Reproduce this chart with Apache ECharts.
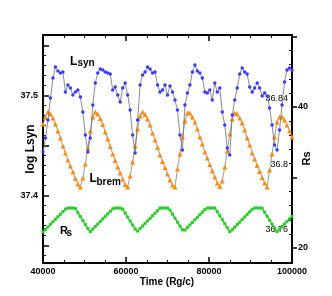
<!DOCTYPE html>
<html><head><meta charset="utf-8">
<script src="https://cdn.jsdelivr.net/npm/echarts@6/dist/echarts.min.js"></script>
<style>html,body{margin:0;padding:0;background:#fff}#c{width:332px;height:296px}</style>
</head><body><div id="c"></div>
<script>
const times = [40000,40600,41200,41800,42400,43000,43600,44200,44800,45400,46000,46600,47200,47800,48400,49000,49600,50200,50800,51400,52000,52600,53200,53800,54400,55000,55600,56200,56800,57400,58000,58600,59200,59800,60400,61000,61600,62200,62800,63400,64000,64600,65200,65800,66400,67000,67600,68200,68800,69400,70000,70600,71200,71800,72400,73000,73600,74200,74800,75400,76000,76600,77200,77800,78400,79000,79600,80200,80800,81400,82000,82600,83200,83800,84400,85000,85600,86200,86800,87400,88000,88600,89200,89800,90400,91000,91600,92200,92800,93400,94000,94600,95200,95800,96400,97000,97600,98200,98800,99400,100000];
const logLsyn = [37.4435,37.4575,37.4755,37.4975,37.5175,37.5285,37.5245,37.5225,37.5235,37.5035,37.5105,37.5075,37.5005,37.5035,37.5055,37.4985,37.4835,37.4605,37.4435,37.4575,37.4905,37.5125,37.5225,37.5265,37.5255,37.5235,37.5225,37.5215,37.5055,37.5085,37.5005,37.4935,37.5075,37.5125,37.5005,37.4855,37.4605,37.4425,37.4755,37.5105,37.5205,37.5235,37.5285,37.5265,37.5225,37.5235,37.5105,37.5035,37.5055,37.5105,37.5005,37.5095,37.5035,37.4955,37.4855,37.4605,37.4455,37.4905,37.5025,37.5105,37.5235,37.5305,37.5245,37.5225,37.5175,37.5035,37.5025,37.5055,37.4955,37.5125,37.5035,37.5075,37.4835,37.4705,37.4475,37.4405,37.4805,37.4955,37.5075,37.5215,37.5275,37.5235,37.5215,37.5085,37.5035,37.5075,37.5125,37.5075,37.4995,37.5025,37.4995,37.4875,37.4705,37.4505,37.4455,37.4655,37.4905,37.5135,37.5255,37.5275,37.5255];
const logLbrem = [36.8247,36.8290,36.8321,36.8308,36.8284,36.8247,36.8205,36.8162,36.8113,36.8070,36.8027,36.7991,36.7954,36.7915,36.7881,36.7863,36.7918,36.8003,36.8101,36.8205,36.8290,36.8321,36.8308,36.8281,36.8244,36.8198,36.8156,36.8110,36.8064,36.8024,36.7985,36.7948,36.7911,36.7878,36.7863,36.7930,36.8015,36.8113,36.8217,36.8296,36.8321,36.8305,36.8278,36.8241,36.8192,36.8150,36.8104,36.8058,36.8018,36.7982,36.7942,36.7905,36.7875,36.7863,36.7973,36.8064,36.8168,36.8266,36.8315,36.8315,36.8290,36.8260,36.8217,36.8168,36.8125,36.8076,36.8040,36.8000,36.7960,36.7924,36.7887,36.7866,36.7899,36.7985,36.8082,36.8186,36.8278,36.8315,36.8308,36.8284,36.8253,36.8211,36.8162,36.8119,36.8070,36.8034,36.7994,36.7957,36.7921,36.7887,36.7863,36.7966,36.8064,36.8168,36.8260,36.8290,36.8290,36.8272,36.8241,36.8205,36.8168];
const rs = [22.27,22.64,22.99,23.36,23.72,24.09,24.43,24.79,25.15,25.52,25.67,25.67,25.67,25.59,25.02,24.45,23.90,23.33,22.77,22.31,22.68,23.04,23.40,23.76,24.13,24.48,24.84,25.19,25.56,25.67,25.67,25.67,25.52,24.95,24.38,23.82,23.26,22.70,22.40,22.77,23.12,23.49,23.84,24.21,24.57,24.94,25.28,25.65,25.67,25.67,25.67,25.38,24.81,24.24,23.67,23.11,22.57,22.54,22.91,23.26,23.63,24.00,24.35,24.72,25.08,25.45,25.67,25.67,25.67,25.67,25.15,24.58,24.01,23.45,22.88,22.31,22.58,22.95,23.32,23.67,24.04,24.40,24.77,25.12,25.49,25.67,25.67,25.67,25.65,25.08,24.51,23.94,23.38,22.81,22.33,22.70,23.04,23.40,23.76,24.13,24.48];

const lsynLabels = [37.4, 37.5];
const lsynMajorTicks = [37.35, 37.4, 37.45, 37.5, 37.55];
const lsynMinorTicks = [37.34,37.36,37.37,37.38,37.39,37.41,37.42,37.43,37.44,37.46,37.47,37.48,37.49,37.51,37.52,37.53,37.54,37.56];
const lbremLabels = [36.76, 36.8, 36.84];
const rsLabels = [20, 40];
const rsMajorTicks = [20, 30, 40, 50];
const rsMinorTicks = [18,22,24,26,28,32,34,36,38,42,44,46,48];

const FONT = '"Liberation Sans", Arial, Helvetica, sans-serif';
const pair = ys => times.map((t, i) => [t, ys[i]]);
const chart = echarts.init(document.getElementById('c'));

const baseX = {
  type: 'value', min: 40000, max: 100000, interval: 20000,
  axisLine: {show: true, onZero: false, lineStyle: {color: '#000', width: 2}},
  axisTick: {show: true, inside: true, length: 6, lineStyle: {color: '#000', width: 1.5}},
  minorTick: {show: true, splitNumber: 4, length: 3, lineStyle: {color: '#000', width: 1}},
  splitLine: {show: false}, minorSplitLine: {show: false}
};
const lsynRange = {min: 37.3325, max: 37.5605};
const rsRange = {min: 17.87, max: 50.21};

chart.setOption({
  animation: false,
  backgroundColor: '#fff',
  grid: {left: 43, top: 35, right: 40, bottom: 33, containLabel: false},
  xAxis: [
    Object.assign({}, baseX, {position: 'bottom',
      axisLabel: {show: true, margin: 4, color: '#000', fontWeight: 'bold', fontSize: 9, fontFamily: FONT,
        formatter: v => String(v), showMinLabel: true, showMaxLabel: true}}),
    Object.assign({}, baseX, {position: 'top', axisLabel: {show: false}})
  ],
  yAxis: [
    Object.assign({type: 'value', position: 'left'}, lsynRange, {
      axisLine: {show: true, onZero: false, lineStyle: {color: '#000', width: 2}},
      axisTick: {show: true, inside: true, length: 6, customValues: lsynMajorTicks, lineStyle: {color: '#000', width: 1.5}},
      axisLabel: {show: true, customValues: lsynLabels, margin: 5, color: '#000', fontWeight: 'bold', fontSize: 9, fontFamily: FONT,
        formatter: v => Number(v).toFixed(1)},
      splitLine: {show: false}}),
    Object.assign({type: 'value', position: 'left'}, lsynRange, {
      axisLine: {show: false},
      axisTick: {show: true, inside: true, length: 3, customValues: lsynMinorTicks, lineStyle: {color: '#000', width: 1}},
      axisLabel: {show: false}, splitLine: {show: false}}),
    Object.assign({type: 'value', position: 'right'}, rsRange, {
      axisLine: {show: true, onZero: false, lineStyle: {color: '#000', width: 2}},
      axisTick: {show: true, inside: false, length: 5, customValues: rsMajorTicks, lineStyle: {color: '#000', width: 1.5}},
      axisLabel: {show: true, customValues: rsLabels, margin: 6, color: '#000', fontWeight: 'bold', fontSize: 9, fontFamily: FONT},
      splitLine: {show: false}}),
    Object.assign({type: 'value', position: 'right'}, rsRange, {
      axisLine: {show: false},
      axisTick: {show: true, inside: true, length: 3, customValues: rsMinorTicks, lineStyle: {color: '#000', width: 1}},
      axisLabel: {show: false}, splitLine: {show: false}}),
    {type: 'value', position: 'right', min: 36.7398, max: 36.8791,
      axisLine: {show: false}, axisTick: {show: false},
      axisLabel: {show: true, inside: true, customValues: lbremLabels, margin: 4, color: '#000', fontSize: 9, fontFamily: FONT,
        formatter: v => String(Number(v.toFixed(2)))},
      splitLine: {show: false}}
  ],
  series: [
    {type: 'line', name: 'Lbrem', xAxisIndex: 0, yAxisIndex: 4, data: pair(logLbrem),
      symbol: 'triangle', symbolSize: 5, showAllSymbol: true,
      lineStyle: {color: '#808080', width: 0.8}, itemStyle: {color: '#ff8a14'}, z: 2},
    {type: 'line', name: 'Lsyn', xAxisIndex: 0, yAxisIndex: 0, data: pair(logLsyn),
      symbol: 'circle', symbolSize: 3.5, showAllSymbol: true,
      lineStyle: {color: '#6e6e6e', width: 0.8}, itemStyle: {color: '#3a3aff'}, z: 3},
    {type: 'line', name: 'Rs', xAxisIndex: 0, yAxisIndex: 2, data: pair(rs),
      symbol: 'rect', symbolSize: 3, showAllSymbol: true,
      lineStyle: {color: '#2ccc2c', width: 1.5}, itemStyle: {color: '#2ccc2c'}, z: 2}
  ],
  graphic: [
    {type: 'text', x: 70, y: 56, style: {text: 'L', font: 'bold 12px ' + FONT, fill: '#000', textVerticalAlign: 'top'}},
    {type: 'text', x: 77.5, y: 58, style: {text: 'syn', font: 'bold 10px ' + FONT, fill: '#000', textVerticalAlign: 'top'}},
    {type: 'text', x: 89.5, y: 173, style: {text: 'L', font: 'bold 12px ' + FONT, fill: '#000', textVerticalAlign: 'top'}},
    {type: 'text', x: 96.5, y: 177, style: {text: 'brem', font: 'bold 10px ' + FONT, fill: '#000', textVerticalAlign: 'top'}},
    {type: 'text', x: 60, y: 225, style: {text: 'R', font: 'bold 11px ' + FONT, fill: '#000', textVerticalAlign: 'top'}},
    {type: 'text', x: 66.5, y: 228, style: {text: 's', font: 'bold 10px ' + FONT, fill: '#000', textVerticalAlign: 'top'}},
    {type: 'text', x: 31, y: 149, rotation: Math.PI / 2, style: {text: 'log Lsyn', font: 'bold 12px ' + FONT, fill: '#000', textAlign: 'center', textVerticalAlign: 'middle'}},
    {type: 'text', x: 306.5, y: 158.5, rotation: Math.PI / 2, style: {text: 'Rs', font: 'bold 11px ' + FONT, fill: '#000', textAlign: 'center', textVerticalAlign: 'middle'}},
    {type: 'text', x: 167, y: 282, style: {text: 'Time (Rg/c)', font: 'bold 10px ' + FONT, fill: '#000', textAlign: 'center', textVerticalAlign: 'middle'}}
  ]
});
</script></body></html>
